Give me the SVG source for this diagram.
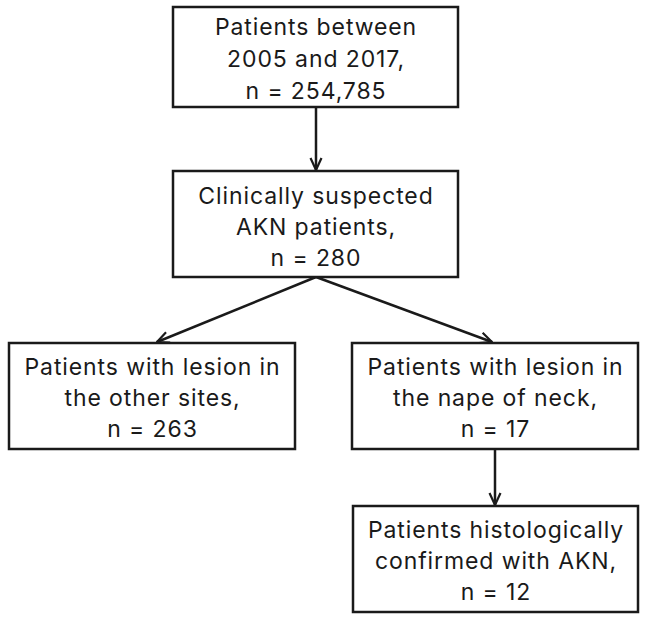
<svg xmlns="http://www.w3.org/2000/svg" width="650" height="619" viewBox="0 0 650 619">
<defs>
<marker id="arr" viewBox="0 0 14 14" refX="13" refY="7" markerWidth="14" markerHeight="14" markerUnits="userSpaceOnUse" orient="auto">
<path d="M1,1.5 L13,7 L1,12.5" fill="none" stroke="#1a1a1a" stroke-width="2.2"/>
</marker>
<style>
.box{fill:#fff;stroke:#1a1a1a;stroke-width:2.5}
.t{font-family:Inter,"Open Sans",sans-serif;font-size:23px;letter-spacing:0.9px;fill:#1a1a1a;text-anchor:middle}
.c{fill:none;stroke:#1a1a1a;stroke-width:2.5;marker-end:url(#arr)}
</style>
</defs>
<rect width="650" height="619" fill="#fff"/>
<g id="connectors">
<line class="c" x1="316" y1="107" x2="316" y2="170"/>
<line class="c" x1="316" y1="277" x2="157" y2="342"/>
<line class="c" x1="316" y1="277" x2="492" y2="342"/>
<line class="c" x1="495" y1="449" x2="495" y2="505"/>
</g>
<g id="n1">
<rect class="box" x="173" y="7" width="285" height="100"/>
<text class="t" x="316" y="35">Patients between</text>
<text class="t" x="316" y="67">2005 and 2017,</text>
<text class="t" x="316" y="99">n = 254,785</text>
</g>
<g id="n2">
<rect class="box" x="173" y="171" width="285" height="106"/>
<text class="t" x="316" y="204">Clinically suspected</text>
<text class="t" x="316" y="235">AKN patients,</text>
<text class="t" x="316" y="266">n = 280</text>
</g>
<g id="n3">
<rect class="box" x="9" y="343" width="286" height="106"/>
<text class="t" x="152.5" y="375">Patients with lesion in</text>
<text class="t" x="152.5" y="406">the other sites,</text>
<text class="t" x="152.5" y="437">n = 263</text>
</g>
<g id="n4">
<rect class="box" x="352" y="343" width="286" height="106"/>
<text class="t" x="495.5" y="375">Patients with lesion in</text>
<text class="t" x="495.5" y="406">the nape of neck,</text>
<text class="t" x="495.5" y="437">n = 17</text>
</g>
<g id="n5">
<rect class="box" x="353" y="506" width="285" height="106"/>
<text class="t" x="496" y="538">Patients histologically</text>
<text class="t" x="496" y="569">confirmed with AKN,</text>
<text class="t" x="496" y="600">n = 12</text>
</g>
</svg>
